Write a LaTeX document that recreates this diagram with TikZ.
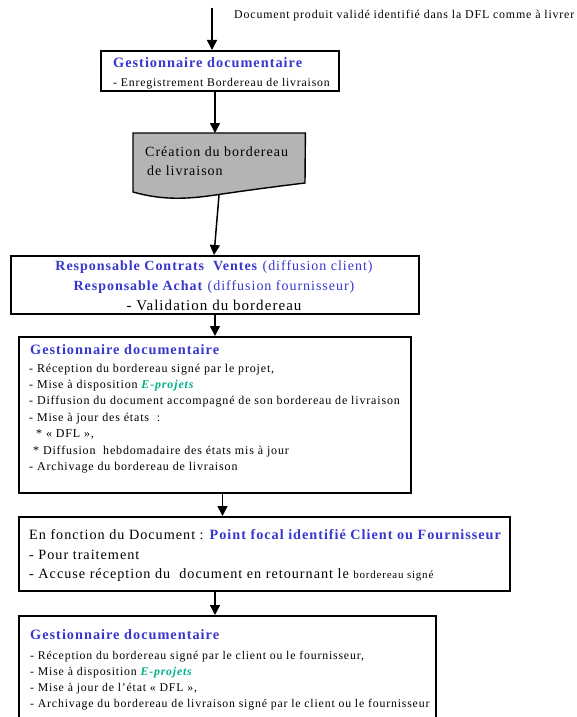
\documentclass[tikz,border=0pt]{standalone}
\usepackage{fontspec}
\setmainfont{Liberation Serif}[LetterSpace=7]
\usetikzlibrary{arrows.meta}
\definecolor{titleblue}{RGB}{55,55,205}
\definecolor{eprojgreen}{RGB}{0,175,135}
\definecolor{docgray}{RGB}{180,180,180}
\newcommand{\eproj}{\textcolor{eprojgreen}{\textbf{\textit{E-projets}}}}
\begin{document}
\begin{tikzpicture}[x=1pt,y=-1pt,
  box/.style={draw=black,line width=1.6pt,fill=white,rectangle,inner sep=0pt,anchor=north west},
  % multi-line texts are anchored at the baseline of their last line
  txt/.style={inner sep=0pt,anchor=base west,align=left},
  ctxt/.style={inner sep=0pt,anchor=base,align=center},
  body/.style={font=\fontsize{12}{16.4}\selectfont},
  ttl/.style={font=\fontsize{14.3}{16}\selectfont\bfseries,text=titleblue},
  flow/.style={line width=1.5pt,-{Triangle[length=10pt,width=10pt]}}]
\useasboundingbox (0,0) rectangle (576,717);

% entry arrow and its label
\coordinate (start) at (212,8);
\node[txt,font=\fontsize{11.9}{14}\selectfont] (lbl) at (234,19)
  {Document produit validé identifié dans la DFL comme à livrer};

% registration box
\node[box,minimum width=238pt,minimum height=40pt] (b1) at (100,50) {};
\node[txt,ttl] (t1) at (113,67.5) {Gestionnaire documentaire};
\node[txt,font=\fontsize{11.75}{14}\selectfont] (l1) at (113,86) {- Enregistrement Bordereau de livraison};

% document shape
\node[inner sep=0pt,minimum width=172pt,minimum height=50pt,anchor=north west] (doc) at (133,133) {};
\fill[docgray,draw=black,line width=1.4pt]
  (doc.north west) -- (doc.north east) -- (305,183)
  .. controls (272,187) and (250,190) .. (222,194)
  .. controls (190,199) and (165,201) .. (133,192) -- cycle;
\node[txt,font=\fontsize{14}{19}\selectfont] (tdoc) at (145,175)
  {Création du bordereau\\\hspace*{2pt}de livraison};
\coordinate (docout) at (219,195);

% validation box
\node[box,minimum width=408pt,minimum height=58pt] (b3) at (10,255) {};
\node[ctxt,font=\fontsize{14}{20}\selectfont] (l3) at (214,310)
  {\textcolor{titleblue}{\textbf{Responsable Contrats\ \ Ventes} (diffusion client)}\\
   \textcolor{titleblue}{\textbf{Responsable Achat} (diffusion fournisseur)}\\
   {\fontsize{15}{20}\selectfont - Validation du bordereau}};

% distribution box
\node[box,minimum width=392pt,minimum height=156pt] (b4) at (18,336) {};
\node[txt,ttl] (t4) at (30,354.5) {Gestionnaire documentaire};
\node[txt,body] (l4) at (29,470.4)
  {- Réception du bordereau signé par le projet,\\
   - Mise à disposition \eproj\\
   - Diffusion du document accompagné de son bordereau de livraison\\
   - Mise à jour des états\ \ :\\
   \hspace*{7pt}* « DFL »,\\
   \hspace*{4pt}* Diffusion\ \ hebdomadaire des états mis à jour\\
   - Archivage du bordereau de livraison};

% focal point box
\node[box,minimum width=491pt,minimum height=74pt] (b5) at (18,516) {};
\node[txt,font=\fontsize{14.2}{19.5}\selectfont] (l5) at (29,578.5)
  {En fonction du Document : \textcolor{titleblue}{\textbf{Point focal identifié Client ou Fournisseur}}\\
   - Pour traitement\\
   - Accuse réception du\ \ document en retournant le {\fontsize{11}{12}\selectfont bordereau signé}};

% archiving box (runs past the lower edge)
\node[box,minimum width=417pt,minimum height=120pt] (b6) at (18,615) {};
\node[txt,ttl] (t6) at (30,639.5) {Gestionnaire documentaire};
\node[txt,font=\fontsize{11.8}{16}\selectfont] (l6) at (30,707)
  {- Réception du bordereau signé par le client ou le fournisseur,\\
   - Mise à disposition \eproj\\
   - Mise à jour de l’état « DFL »,\\
   - Archivage du bordereau de livraison signé par le client ou le fournisseur};

% connectors
\draw[flow] (start) -- (start |- b1.north);
\coordinate (c1) at (215,0);
\draw[flow] (c1 |- b1.south) -- (c1 |- doc.north);
\coordinate (c2) at (214,0);
\draw[flow] (docout) -- (c2 |- b3.north);
\coordinate (c3) at (215,0);
\draw[flow] (c3 |- b3.south) -- (c3 |- b4.north);
\coordinate (c4) at (222.5,0);
\draw[flow] (c4 |- b4.south) -- (c4 |- b5.north);
\coordinate (c5) at (215,0);
\draw[flow] (c5 |- b5.south) -- (c5 |- b6.north);
\end{tikzpicture}
\end{document}
